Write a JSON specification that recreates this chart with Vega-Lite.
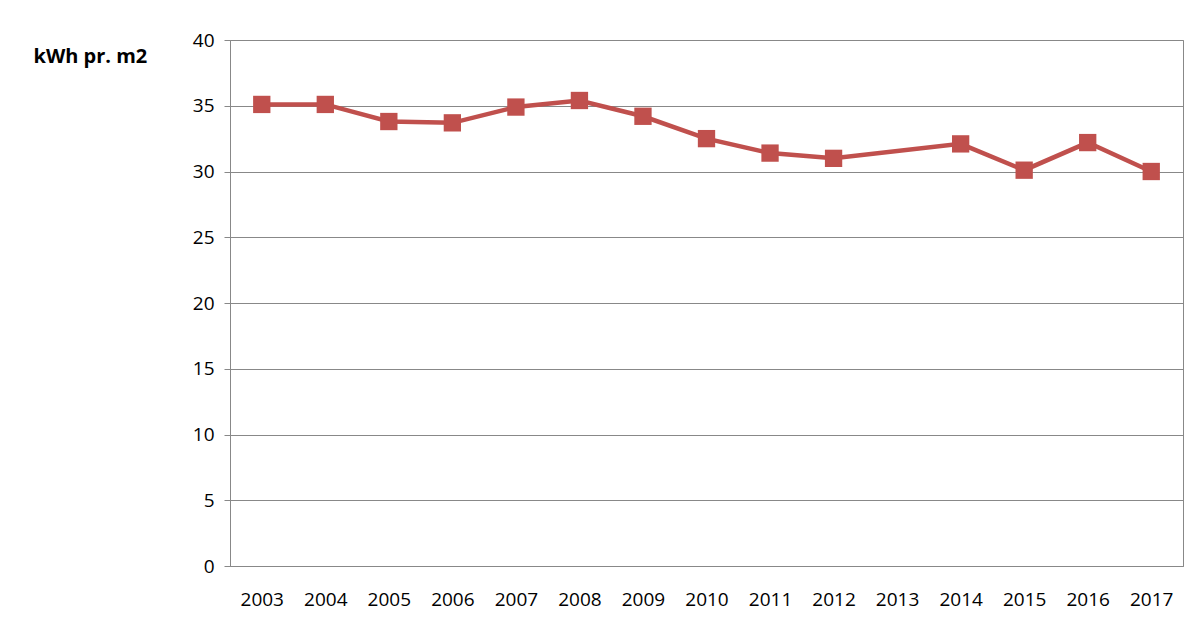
{
  "$schema": "https://vega.github.io/schema/vega-lite/v6.json",
  "autosize": "none",
  "width": 953,
  "height": 526,
  "padding": {"left": 230, "top": 40, "right": 17, "bottom": 76},
  "background": "white",
  "config": {"view": {"stroke": "#888888", "strokeWidth": 1}, "font": "Open Sans"},
  "data": {"values": [
    {"year": "2003", "kwh": 35.1},
    {"year": "2004", "kwh": 35.1},
    {"year": "2005", "kwh": 33.8},
    {"year": "2006", "kwh": 33.7},
    {"year": "2007", "kwh": 34.9},
    {"year": "2008", "kwh": 35.4},
    {"year": "2009", "kwh": 34.2},
    {"year": "2010", "kwh": 32.5},
    {"year": "2011", "kwh": 31.4},
    {"year": "2012", "kwh": 31.0},
    {"year": "2014", "kwh": 32.1},
    {"year": "2015", "kwh": 30.1},
    {"year": "2016", "kwh": 32.2},
    {"year": "2017", "kwh": 30.0}
  ]},
  "encoding": {
    "x": {
      "field": "year", "type": "ordinal",
      "scale": {"type": "point", "padding": 0.5, "domain": ["2003","2004","2005","2006","2007","2008","2009","2010","2011","2012","2013","2014","2015","2016","2017"]},
      "axis": {"title": null, "labelAngle": 0, "labelFontSize": 19, "labelColor": "black", "domainColor": "#888888", "ticks": false, "labelPadding": 24, "grid": false}
    },
    "y": {
      "field": "kwh", "type": "quantitative",
      "scale": {"domain": [0, 40]},
      "axis": {"values": [0,5,10,15,20,25,30,35,40], "labelFontSize": 19, "labelColor": "black", "gridColor": "#888888", "domainColor": "#888888", "tickColor": "#888888", "tickSize": 6, "labelPadding": 10,
        "title": "kWh pr. m2", "titleAngle": 0, "titleFontSize": 20, "titleFontWeight": "bold", "titleAlign": "left", "titleBaseline": "middle", "titleX": -197, "titleY": 16}
    }
  },
  "layer": [
    {"mark": {"type": "line", "color": "#C0504D", "strokeWidth": 4.5}},
    {"mark": {"type": "point", "shape": "square", "filled": true, "opacity": 1, "size": 300, "color": "#C0504D"}}
  ]
}
